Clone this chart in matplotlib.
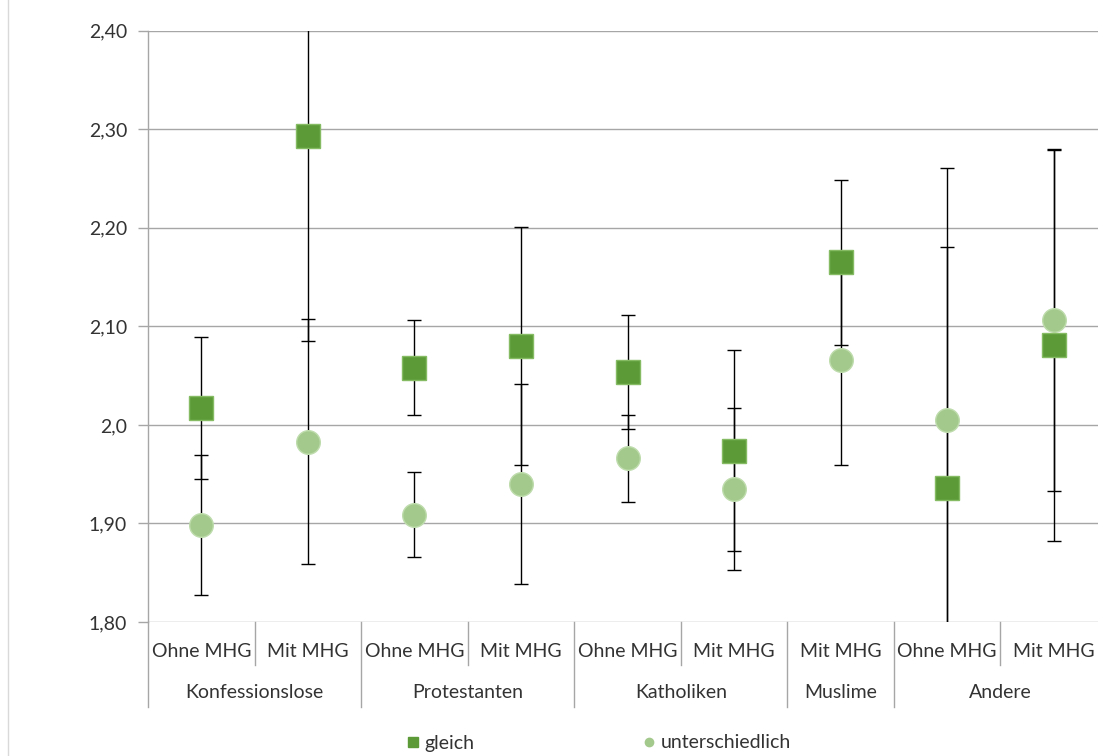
import matplotlib
matplotlib.use("Agg")
import matplotlib.pyplot as plt
from matplotlib.lines import Line2D

plt.rcParams['font.family'] = ['Lato', 'DejaVu Sans']

# --- data
sub_labels = ["Ohne MHG", "Mit MHG", "Ohne MHG", "Mit MHG", "Ohne MHG",
              "Mit MHG", "Mit MHG", "Ohne MHG", "Mit MHG"]
groups = ["Konfessionslose", "Protestanten", "Katholiken", "Muslime", "Andere"]
group_sizes = [2, 2, 2, 1, 2]

gleich = [2.017, 2.293, 2.058, 2.080, 2.054, 1.974, 2.165, 1.936, 2.081]
gleich_err = [0.072, 0.208, 0.048, 0.121, 0.058, 0.102, 0.084, 0.245, 0.199]
unter = [1.898, 1.983, 1.909, 1.940, 1.966, 1.935, 2.066, 2.005, 2.106]
unter_err = [0.071, 0.124, 0.043, 0.101, 0.044, 0.082, 0.107, 0.256, 0.173]

y_ticks = [1.80, 1.90, 2.00, 2.10, 2.20, 2.30, 2.40]
y_ticklabels = ["1,80", "1,90", "2,0", "2,10", "2,20", "2,30", "2,40"]

TXT = "#333333"
GRID = "#a6a6a6"
SQ_FACE, SQ_EDGE = "#5b9a37", "#86bb63"
CI_FACE, CI_EDGE = "#a4c98d", "#bedcac"
FS = 14

W, H = 1098, 756
fig = plt.figure(figsize=(W / 100, H / 100), dpi=100)
ax = fig.add_axes([148 / W, 134 / H, 959 / W, 591.3 / H])

x = list(range(len(sub_labels)))

# error bars under the markers
ax.errorbar(x, gleich, yerr=gleich_err, fmt="none", ecolor="black",
            elinewidth=1.0, capsize=5, capthick=1.0, zorder=2)
ax.errorbar(x, unter, yerr=unter_err, fmt="none", ecolor="black",
            elinewidth=1.0, capsize=5, capthick=1.0, zorder=2)

ax.plot(x, gleich, "s", ms=17, mfc=SQ_FACE, mec=SQ_EDGE, mew=1, zorder=4, clip_on=False)
ax.plot(x, unter, "o", ms=17, mfc=CI_FACE, mec=CI_EDGE, mew=1, zorder=3, clip_on=False)

ax.set_xlim(-0.5, len(sub_labels) - 0.5)
ax.set_ylim(1.80, 2.40)
ax.set_yticks(y_ticks)
ax.set_yticklabels(y_ticklabels, fontsize=FS, color=TXT)
ax.tick_params(axis="y", length=7, color=GRID, width=1, pad=8)
ax.set_xticks([])
ax.yaxis.grid(True, color=GRID, lw=1)
ax.set_axisbelow(True)
for s in ["top", "right", "bottom"]:
    ax.spines[s].set_visible(False)
ax.spines["left"].set_color(GRID)
ax.spines["left"].set_linewidth(1)

# two level category axis
tr = ax.get_xaxis_transform()
short = -43 / 591.3
long_ = -85 / 591.3
for i, lab in enumerate(sub_labels):
    ax.text(i, -29.7 / 591.3, lab, transform=tr, ha="center", va="center",
            fontsize=FS, color=TXT)

pos = -0.5
ax.plot([pos, pos], [0, long_], transform=tr, color=GRID, lw=1, clip_on=False)
for g, n in zip(groups, group_sizes):
    for k in range(1, n):
        ax.plot([pos + k, pos + k], [0, short], transform=tr, color=GRID, lw=1, clip_on=False)
    ax.text(pos + n / 2, -70.7 / 591.3, g, transform=tr, ha="center", va="center",
            fontsize=FS, color=TXT)
    pos += n
    ax.plot([pos, pos], [0, long_], transform=tr, color=GRID, lw=1, clip_on=False)

# left border of the chart area
fig.add_artist(Line2D([8 / W, 8 / W], [0, 1], color="#d9d9d9", lw=1))

handles = [
    Line2D([], [], ls="none", marker="s", ms=7, mfc=SQ_FACE, mec=SQ_FACE),
    Line2D([], [], ls="none", marker="o", ms=6, mfc=CI_FACE, mec=CI_FACE),
]
fig.legend(handles, ["gleich", "unterschiedlich"], loc="center",
           bbox_to_anchor=(598 / W, 1 - 743 / H), ncol=2, frameon=False,
           fontsize=FS, labelcolor=TXT, handletextpad=0.2, columnspacing=8.6,
           handlelength=0.8, borderpad=0)

fig.savefig("out.png", dpi=100)
